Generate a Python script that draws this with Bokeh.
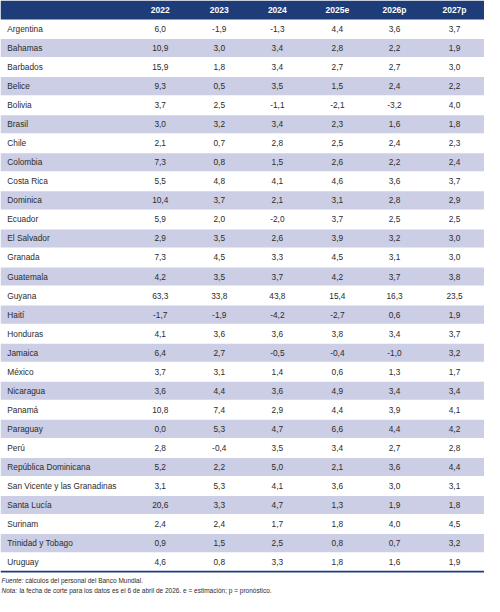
from bokeh.plotting import figure
from bokeh.models import Range1d
from bokeh.core.properties import value
from bokeh.embed import file_html
from bokeh.resources import INLINE

countries = ["Argentina", "Bahamas", "Barbados", "Belice", "Bolivia", "Brasil", "Chile",
             "Colombia", "Costa Rica", "Dominica", "Ecuador", "El Salvador", "Granada",
             "Guatemala", "Guyana", "Haití", "Honduras", "Jamaica", "México", "Nicaragua",
             "Panamá", "Paraguay", "Perú", "República Dominicana",
             "San Vicente y las Granadinas", "Santa Lucía", "Surinam", "Trinidad y Tobago",
             "Uruguay"]
years = ["2022", "2023", "2024", "2025e", "2026p", "2027p"]

v2022 = [6.0, 10.9, 15.9, 9.3, 3.7, 3.0, 2.1, 7.3, 5.5, 10.4, 5.9, 2.9, 7.3, 4.2, 63.3, -1.7,
         4.1, 6.4, 3.7, 3.6, 10.8, 0.0, 2.8, 5.2, 3.1, 20.6, 2.4, 0.9, 4.6]
v2023 = [-1.9, 3.0, 1.8, 0.5, 2.5, 3.2, 0.7, 0.8, 4.8, 3.7, 2.0, 3.5, 4.5, 3.5, 33.8, -1.9,
         3.6, 2.7, 3.1, 4.4, 7.4, 5.3, -0.4, 2.2, 5.3, 3.3, 2.4, 1.5, 0.8]
v2024 = [-1.3, 3.4, 3.4, 3.5, -1.1, 3.4, 2.8, 1.5, 4.1, 2.1, -2.0, 2.6, 3.3, 3.7, 43.8, -4.2,
         3.6, -0.5, 1.4, 3.6, 2.9, 4.7, 3.5, 5.0, 4.1, 4.7, 1.7, 2.5, 3.3]
v2025e = [4.4, 2.8, 2.7, 1.5, -2.1, 2.3, 2.5, 2.6, 4.6, 3.1, 3.7, 3.9, 4.5, 4.2, 15.4, -2.7,
          3.8, -0.4, 0.6, 4.9, 4.4, 6.6, 3.4, 2.1, 3.6, 1.3, 1.8, 0.8, 1.8]
v2026p = [3.6, 2.2, 2.7, 2.4, -3.2, 1.6, 2.4, 2.2, 3.6, 2.8, 2.5, 3.2, 3.1, 3.7, 16.3, 0.6,
          3.4, -1.0, 1.3, 3.4, 3.9, 4.4, 2.7, 3.6, 3.0, 1.9, 4.0, 0.7, 1.6]
v2027p = [3.7, 1.9, 3.0, 2.2, 4.0, 1.8, 2.3, 2.4, 3.7, 2.9, 2.5, 3.0, 3.0, 3.8, 23.5, 1.9,
          3.7, 3.2, 1.7, 3.4, 4.1, 4.2, 2.8, 4.4, 3.1, 1.8, 4.5, 3.2, 1.9]
series = [v2022, v2023, v2024, v2025e, v2026p, v2027p]

source_label = "Fuente:"
source_note = "cálculos del personal del Banco Mundial."
nota_label = "Nota:"
nota_note = "la fecha de corte para los datos es el 6 de abril de 2026. e = estimación; p = pronóstico."

# layout (reference pixel units)
W, H = 500, 612
HEADER = 19.5
n = len(countries)
ROW_H = (586.5 - HEADER) / n
col_x = [165, 226, 286, 348, 407, 469]
NAVY = "#1e3d78"
BAND = "#cbcee4"
TXT = "#2b2b2b"
FONT = value("Liberation Sans")

p = figure(width=484, height=596, output_backend="svg", toolbar_location=None,
           x_range=Range1d(0, W), y_range=Range1d(H, 0), min_border=0)
p.axis.visible = False
p.grid.visible = False
p.outline_line_color = None
p.background_fill_color = "white"

# header band
p.quad(left=[0], right=[W], top=[0], bottom=[HEADER], fill_color=NAVY, line_color=None)
# alternating bands
band_idx = [i for i in range(n) if i % 2 == 1]
p.quad(left=[0] * len(band_idx), right=[W] * len(band_idx),
       top=[HEADER + ROW_H * i + 0.5 for i in band_idx],
       bottom=[HEADER + ROW_H * (i + 1) - 0.5 for i in band_idx],
       fill_color=BAND, line_color=None)
# bottom rule
bottom_y = HEADER + ROW_H * n
p.segment(x0=[0], x1=[W], y0=[bottom_y], y1=[bottom_y], line_color=NAVY, line_width=1.6)

# header labels
p.text(x=col_x, y=[HEADER / 2 + 0.5] * len(years), text=years, text_color="white",
       text_font=FONT, text_font_style="bold", text_font_size="8.5px",
       text_align="center", text_baseline="middle")

ys = [HEADER + ROW_H * (i + 0.5) for i in range(n)]
p.text(x=[7] * n, y=ys, text=countries, text_color=TXT, text_font=FONT,
       text_font_size="8.3px", text_align="left", text_baseline="middle")

def fmt(v):
    return f"{v:.1f}".replace(".", ",")

for cx, vals in zip(col_x, series):
    p.text(x=[cx] * n, y=ys, text=[fmt(v) for v in vals], text_color=TXT, text_font=FONT,
           text_font_size="8.3px", text_align="center", text_baseline="middle")

# footnotes
p.text(x=[1], y=[596], text=[source_label], text_font=FONT, text_font_style="italic",
       text_font_size="6.5px", text_color=TXT, text_baseline="middle")
p.text(x=[25.5], y=[596], text=[source_note], text_font=FONT,
       text_font_size="6.5px", text_color=TXT, text_baseline="middle")
p.text(x=[1], y=[605.5], text=[nota_label], text_font=FONT, text_font_style="italic",
       text_font_size="6.5px", text_color=TXT, text_baseline="middle")
p.text(x=[19.5], y=[605.5], text=[nota_note], text_font=FONT,
       text_font_size="6.5px", text_color=TXT, text_baseline="middle")

open("out.html", "w").write(file_html(p, INLINE))
